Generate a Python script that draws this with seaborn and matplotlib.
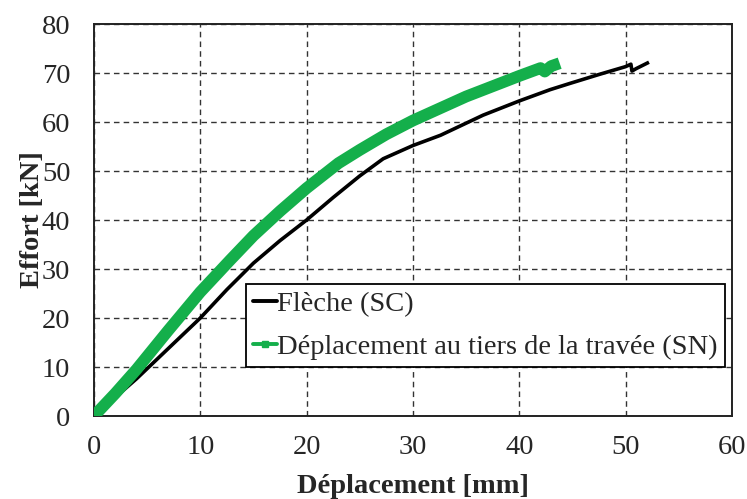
import pandas as pd
import matplotlib.pyplot as plt
import seaborn as sns
from matplotlib.lines import Line2D
from matplotlib.ticker import MultipleLocator

sns.set_style("white")
plt.rcParams['font.family'] = ['Liberation Serif', 'DejaVu Serif']

# Flèche (SC) - lecture sur la figure
fleche_x = [0, 2, 4.0, 7, 10, 12.5, 15, 17.5, 20, 22.5, 25, 27.2, 30, 32.6, 36.6, 40,
            42.9, 44.8, 47.5, 50, 50.5, 50.6, 51, 52.2]
fleche_y = [0, 3.8, 7.6, 13.8, 20, 25.8, 31.2, 35.8, 40, 44.6, 49.0, 52.5, 55.2, 57.3, 61.4, 64.3,
            66.6, 67.9, 69.7, 71.3, 71.8, 70.4, 70.9, 72.2]

# Déplacement au tiers de la travée (SN)
tiers_x = [0, 2, 4, 7, 10, 12.8, 15, 17.5, 20, 23, 25, 27.5, 30, 35, 40, 42, 42.4, 43, 43.8]
tiers_y = [0, 4.6, 9.5, 17.5, 25.3, 31.8, 36.8, 41.8, 46.5, 51.6, 54.3, 57.5, 60.3, 65.2,
           69.4, 71.0, 70.3, 71.4, 72.0]

labels = ['Flèche (SC)', 'Déplacement au tiers de la travée (SN)']
colors = ['black', '#14AF4B']

df = pd.concat([
    pd.DataFrame({'x': fleche_x, 'y': fleche_y, 'serie': labels[0]}),
    pd.DataFrame({'x': tiers_x, 'y': tiers_y, 'serie': labels[1]}),
])

fig = plt.figure(figsize=(7.47, 4.99), dpi=100)
ax = fig.add_axes([0.1258, 0.1663, 0.854, 0.7856])

for lab, col, lw in zip(labels, colors, [2.6, 8.5]):
    sns.lineplot(data=df[df['serie'] == lab], x='x', y='y', color=col, lw=lw,
                 sort=False, estimator=None, legend=False, ax=ax,
                 solid_capstyle='butt', solid_joinstyle='round', zorder=3)

ax.set_xlim(0, 60)
ax.set_ylim(0, 80)
ax.xaxis.set_major_locator(MultipleLocator(10))
ax.yaxis.set_major_locator(MultipleLocator(10))
ax.xaxis.set_minor_locator(MultipleLocator(2))
ax.yaxis.set_minor_locator(MultipleLocator(2))
ax.tick_params(which='major', direction='inout', length=10, width=1.2, labelsize=20.5,
               pad=9, color='#222222')
ax.tick_params(axis='y', which='major', pad=12)
ax.tick_params(which='minor', direction='in', length=5, width=1.0, color='#222222')
ax.tick_params(top=False, right=False, which='both')

ax.grid(True, which='major', color='#333333', linestyle=(0, (4, 3)), lw=1.0)
for sp in ax.spines.values():
    sp.set_color('#222222')
    sp.set_linewidth(1.4)

ax.set_xlabel('Déplacement [mm]', fontsize=20.5, fontweight='bold', labelpad=10)
ax.set_ylabel('Effort [kN]', fontsize=20.5, fontweight='bold', labelpad=-2)

handles = [Line2D([], [], color=colors[0], lw=2.8),
           Line2D([], [], color=colors[1], lw=2.8, marker='s', markersize=5)]
leg = ax.legend(handles, labels, loc='lower left', bbox_to_anchor=(0.238, 0.125),
                fontsize=20.5, frameon=True, fancybox=False, framealpha=1,
                edgecolor='black', handlelength=0.85, handletextpad=0.0,
                borderpad=0.25, labelspacing=0.6, borderaxespad=0)
leg.get_frame().set_linewidth(1.3)

fig.savefig('out.png', dpi=100)
